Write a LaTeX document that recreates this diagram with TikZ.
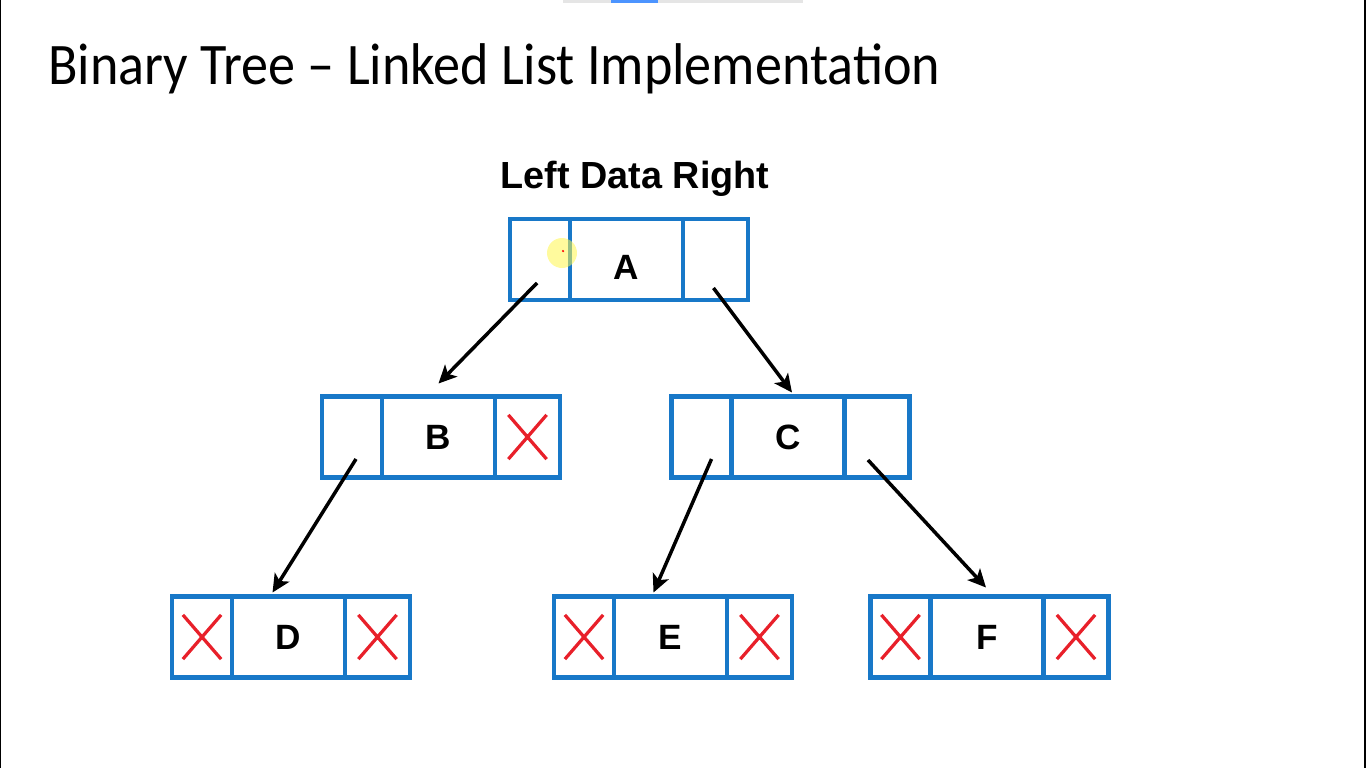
\documentclass[tikz,border=0pt]{standalone}
\usepackage{fontspec}
\setmainfont{Liberation Sans}
\newfontfamily\titlefont[FakeStretch=0.92]{Carlito}
\usetikzlibrary{positioning,shapes.misc,arrows.meta}
\definecolor{boxblue}{RGB}{24,120,200}
\definecolor{nilred}{RGB}{232,32,42}
\tikzset{
  cell/.style={draw=boxblue, line width=0.85mm, outer sep=0pt, inner sep=0pt, minimum height=16.2mm},
  ptrl/.style={cell, minimum width=12mm},
  ptrr/.style={cell, minimum width=13mm},
  datacell/.style={cell, minimum width=22.6mm, font=\fontsize{20}{22}\selectfont\bfseries},
  nil/.style={cross out, draw=nilred, line width=0.65mm, inner sep=0pt, minimum width=7mm, minimum height=8.2mm},
  arr/.style={-{Stealth[length=3.6mm,width=3.4mm,inset=0.9mm]}, line width=0.7mm}
}
\begin{document}
\begin{tikzpicture}[x=0.02cm, y=-0.02cm]
  \useasboundingbox (0,0) rectangle (1366,768);

  % Screen frame
  \fill (0,0) rectangle (1.5,768);
  \fill (1364,0) rectangle (1366,768);
  \fill[gray!20] (563,0) rectangle (803,2.5);
  \fill[blue!60!cyan!70] (611,0) rectangle (658,2.5);

  % Title and header
  \node[anchor=base west, inner sep=0pt, font=\titlefont\fontsize{33.5}{40}\selectfont] (title) at (48,84) {Binary Tree – Linked List Implementation};
  \node[anchor=base, font=\fontsize{21.5}{24}\selectfont\bfseries] (header) at (635,188) {Left Data Right};

  % Level 0: A
  \node[datacell] (A) at (626.5,259.5) {\raisebox{-1.5mm}[\height][0pt]{A}};
  \node[ptrl, left=0pt of A] (A-l) {};
  \node[ptrr, right=0pt of A] (A-r) {};

  % Level 1: B and C
  \node[datacell] (B) at (438.5,437) {B};
  \node[ptrl, left=0pt of B] (B-l) {};
  \node[ptrr, right=0pt of B] (B-r) {};
  \node[nil] (B-rx) at (B-r) {};

  \node[datacell] (C) at (788,437) {C};
  \node[ptrl, left=0pt of C] (C-l) {};
  \node[ptrr, right=0pt of C] (C-r) {};

  % Level 2: D, E and F
  \node[datacell] (D) at (288.5,637) {D};
  \node[ptrl, left=0pt of D] (D-l) {};
  \node[ptrr, right=0pt of D] (D-r) {};
  \node[nil] (D-lx) at (D-l) {};
  \node[nil] (D-rx) at (D-r) {};

  \node[datacell] (E) at (670.5,637) {E};
  \node[ptrl, left=0pt of E] (E-l) {};
  \node[ptrr, right=0pt of E] (E-r) {};
  \node[nil] (E-lx) at (E-l) {};
  \node[nil] (E-rx) at (E-r) {};

  \node[datacell] (F) at (987,637) {F};
  \node[ptrl, left=0pt of F] (F-l) {};
  \node[ptrr, right=0pt of F] (F-r) {};
  \node[nil] (F-lx) at (F-l) {};
  \node[nil] (F-rx) at (F-r) {};

  % Link ends
  \coordinate (A-ls) at ([shift={(-3,23.5)}]A-l.center);
  \coordinate (A-rs) at ([shift={(-2,28.5)}]A-r.center);
  \coordinate (B-ls) at ([shift={(4,22)}]B-l.center);
  \coordinate (C-ls) at ([shift={(10,22)}]C-l.center);
  \coordinate (C-rs) at ([shift={(-9,23)}]C-r.center);
  \coordinate (B-in) at ([shift={(0,-13)}]B.north);
  \coordinate (C-in) at ([shift={(4,-4)}]C.north);
  \coordinate (D-in) at ([shift={(-16,-4)}]D.north);
  \coordinate (E-in) at ([shift={(-17,-4)}]E.north);
  \coordinate (F-in) at ([shift={(-1,-9)}]F.north);

  % Links from A
  \draw[arr] (A-ls) -- (B-in);
  \draw[arr] (A-rs) -- (C-in);

  % Links from B
  \draw[arr] (B-ls) -- (D-in);

  % Links from C
  \draw[arr] (C-ls) -- (E-in);
  \draw[arr] (C-rs) -- (F-in);

  % Cursor mark
  \fill[yellow!70, opacity=0.55] (562,253) circle (3mm);
  \fill[red] (563,251) circle (0.25mm);

\end{tikzpicture}
\end{document}
